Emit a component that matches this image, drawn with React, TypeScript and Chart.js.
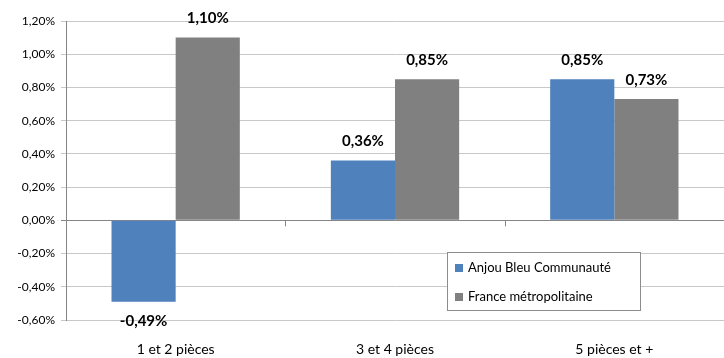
import React, { useEffect, useRef } from "react";
import { Chart, registerables } from "chart.js";

Chart.register(...registerables);

const categories = ["1 et 2 pièces", "3 et 4 pièces", "5 pièces et +"];
const anjouValues = [-0.49, 0.36, 0.85];
const franceValues = [1.10, 0.85, 0.73];
const seriesNames = ["Anjou Bleu Communauté", "France métropolitaine"];
const seriesColors = ["#4F81BD", "#808080"];
const yMin = -0.6;
const yMax = 1.2;
const yStep = 0.2;

const fmt = (v: number) => v.toFixed(2).replace(".", ",") + "%";
const FONT = "Lato, 'Open Sans', sans-serif";

const extrasPlugin = {
  id: "extras",
  afterDatasetsDraw(chart: any) {
    const { ctx, chartArea, scales } = chart;
    const y = scales.y;
    const y0 = y.getPixelForValue(0);
    ctx.save();
    ctx.strokeStyle = "#868686";
    ctx.lineWidth = 1;
    const w = (chartArea.right - chartArea.left) / categories.length;
    for (let i = 0; i <= categories.length; i++) {
      const px = Math.round(chartArea.left + i * w) + 0.5;
      ctx.beginPath();
      ctx.moveTo(px, y0);
      ctx.lineTo(px, y0 + 6);
      ctx.stroke();
    }
    ctx.fillStyle = "#000";
    ctx.font = "bold 15px " + FONT;
    ctx.textAlign = "center";
    ctx.textBaseline = "middle";
    chart.data.datasets.forEach((ds: any, di: number) => {
      const meta = chart.getDatasetMeta(di);
      meta.data.forEach((bar: any, i: number) => {
        const v = ds.data[i];
        const ly = v >= 0 ? bar.y - 19 : bar.y + 19;
        ctx.fillText(fmt(v), bar.x, ly);
      });
    });
    const lx = 447, ly = 252, lw = 193, lh = 58;
    ctx.fillStyle = "#fff";
    ctx.fillRect(lx, ly, lw, lh);
    ctx.strokeStyle = "#8C8C8C";
    ctx.strokeRect(lx + 0.5, ly + 0.5, lw, lh);
    ctx.font = "13px " + FONT;
    ctx.textAlign = "left";
    seriesNames.forEach((n, i) => {
      const cy = ly + 16 + i * 29;
      ctx.fillStyle = seriesColors[i];
      ctx.fillRect(lx + 8, cy - 4, 8, 8);
      ctx.fillStyle = "#000";
      ctx.fillText(n, lx + 21, cy);
    });
    ctx.restore();
  },
};

export default function App() {
  const ref = useRef<HTMLCanvasElement>(null);
  useEffect(() => {
    document.body.style.margin = "0";
    const chart = new Chart(ref.current!, {
      type: "bar",
      data: {
        labels: categories,
        datasets: [
          { label: seriesNames[0], data: anjouValues, backgroundColor: seriesColors[0], barPercentage: 1, categoryPercentage: 0.585 },
          { label: seriesNames[1], data: franceValues, backgroundColor: seriesColors[1], barPercentage: 1, categoryPercentage: 0.585 },
        ],
      },
      options: {
        animation: false,
        responsive: false,
        layout: { padding: { top: 21, right: 0, left: 0, bottom: 0 } },
        plugins: { legend: { display: false }, tooltip: { enabled: false } },
        scales: {
          x: {
            offset: true,
            afterFit(scale: any) { scale.height = 38; },
            grid: { display: false },
            border: { display: false },
            ticks: { color: "#000", font: { family: FONT, size: 14 }, padding: 13, maxRotation: 0 },
          },
          y: {
            min: yMin,
            max: yMax,
            afterFit(scale: any) { scale.width = 66; },
            ticks: {
              stepSize: yStep,
              color: "#000",
              font: { family: FONT, size: 12 },
              padding: 6,
              callback: (v: any) => fmt(Math.round(Number(v) * 100) / 100),
            },
            grid: {
              color: (c: any) => (Math.abs(c.tick?.value ?? 1) < 1e-9 ? "#868686" : "#C8C8C8"),
              tickLength: 5,
            },
            border: { color: "#868686" },
          },
        },
      },
      plugins: [extrasPlugin],
    });
    return () => chart.destroy();
  }, []);
  return (
    <div style={{ width: 724, height: 358 }}>
      <canvas ref={ref} width={724} height={358} />
    </div>
  );
}
